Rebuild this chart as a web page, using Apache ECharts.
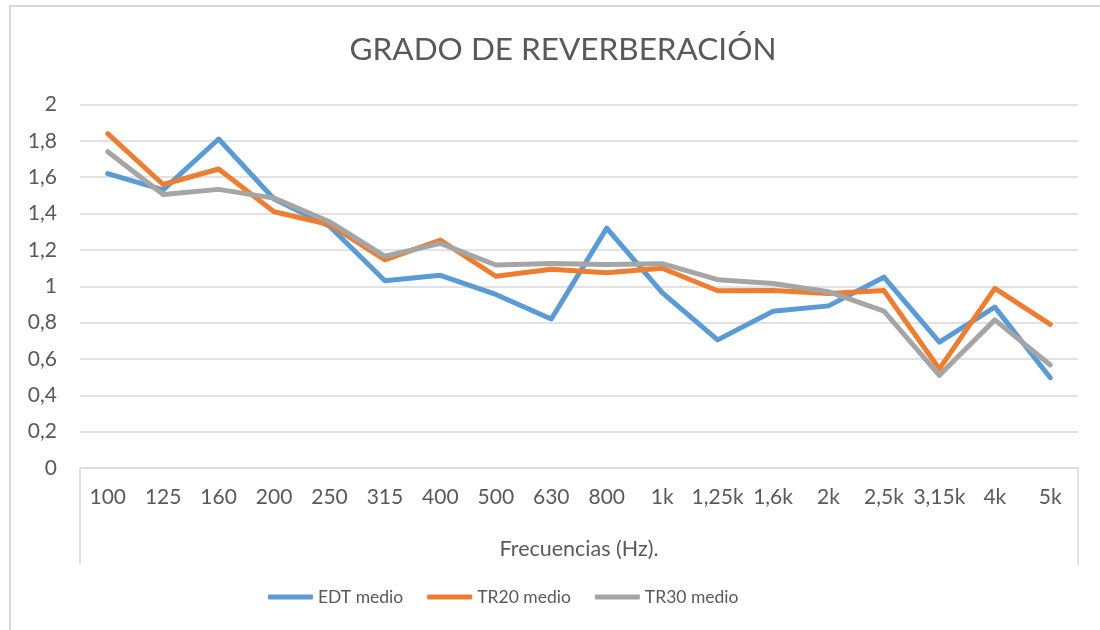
<!DOCTYPE html>
<html>
<head>
<meta charset="utf-8">
<title>Grado de reverberación</title>
<script src="https://cdn.jsdelivr.net/npm/echarts@6/dist/echarts.min.js"></script>
<style>
  html, body { margin: 0; padding: 0; background: #ffffff; }
  #chart { width: 1100px; height: 630px; }
</style>
</head>
<body>
<div id="chart"></div>
<script>
// Bandas de frecuencia (Hz)
const frequencies = ['100', '125', '160', '200', '250', '315', '400', '500', '630', '800',
  '1k', '1,25k', '1,6k', '2k', '2,5k', '3,15k', '4k', '5k'];

// Tiempos medios por banda (s)
const edtMedio = [1.62, 1.53, 1.81, 1.48, 1.33, 1.03, 1.06, 0.955, 0.82, 1.32,
  0.965, 0.705, 0.862, 0.892, 1.05, 0.692, 0.885, 0.497];
const tr20Medio = [1.84, 1.56, 1.645, 1.41, 1.34, 1.145, 1.254, 1.055, 1.093, 1.074,
  1.099, 0.975, 0.977, 0.96, 0.976, 0.545, 0.988, 0.79];
const tr30Medio = [1.74, 1.505, 1.533, 1.485, 1.355, 1.165, 1.236, 1.117, 1.125, 1.12,
  1.124, 1.036, 1.015, 0.97, 0.863, 0.51, 0.815, 0.567];

const yTicks = { min: 0, max: 2, interval: 0.2 };

const FONT = 'Lato, "Open Sans", sans-serif';
const TEXT = '#595959';
const GRID = '#d9d9d9';

const chart = echarts.init(document.getElementById('chart'), null, { renderer: 'canvas' });

function lineSeries(name, data, color) {
  return {
    name: name,
    type: 'line',
    data: data,
    symbol: 'none',
    smooth: false,
    itemStyle: { color: color },
    lineStyle: { color: color, width: 5, cap: 'round', join: 'round' },
    emphasis: { disabled: true }
  };
}

chart.setOption({
  backgroundColor: '#ffffff',
  animation: false,
  textStyle: { fontFamily: FONT },
  title: {
    text: 'GRADO DE REVERBERACIÓN',
    left: 558,
    textAlign: 'center',
    top: 29,
    textStyle: { fontFamily: FONT, fontSize: 31.5, fontWeight: 'normal', color: TEXT }
  },
  grid: { left: 80, right: 22, top: 104.5, bottom: 162, containLabel: false },
  legend: {
    bottom: 19,
    left: 263,
    icon: 'roundRect',
    itemWidth: 45,
    itemHeight: 5,
    itemGap: 24,
    textStyle: { fontFamily: FONT, fontSize: 17.5, color: TEXT },
    data: ['EDT medio', 'TR20 medio', 'TR30 medio']
  },
  xAxis: {
    type: 'category',
    data: frequencies,
    boundaryGap: true,
    name: 'Frecuencias (Hz).',
    nameLocation: 'middle',
    nameGap: 70,
    nameTextStyle: { fontFamily: FONT, fontSize: 21.5, color: TEXT },
    axisLine: { show: true, lineStyle: { color: GRID, width: 1.5 } },
    axisTick: { show: false },
    axisLabel: { fontFamily: FONT, fontSize: 21, color: TEXT, margin: 19, interval: 0 },
    splitLine: { show: false }
  },
  yAxis: {
    type: 'value',
    min: yTicks.min,
    max: yTicks.max,
    interval: yTicks.interval,
    axisLine: { show: false },
    axisTick: { show: false },
    axisLabel: {
      fontFamily: FONT, fontSize: 21, color: TEXT, margin: 23,
      formatter: v => String(Math.round(v * 10) / 10).replace('.', ',')
    },
    splitLine: { show: true, lineStyle: { color: GRID, width: 1.5 } }
  },
  graphic: [
    // marco exterior del gráfico
    { type: 'rect', silent: true, shape: { x: 10, y: 6, width: 1200, height: 700 },
      style: { fill: 'none', stroke: GRID, lineWidth: 2 } },
    // laterales de la zona de rótulos del eje de categorías
    { type: 'line', silent: true, shape: { x1: 80, y1: 468, x2: 80, y2: 565 },
      style: { stroke: GRID, lineWidth: 1.5 } },
    { type: 'line', silent: true, shape: { x1: 1078, y1: 468, x2: 1078, y2: 565 },
      style: { stroke: GRID, lineWidth: 1.5 } }
  ],
  series: [
    lineSeries('EDT medio', edtMedio, '#5B9BD5'),
    lineSeries('TR20 medio', tr20Medio, '#ED7D31'),
    lineSeries('TR30 medio', tr30Medio, '#A5A5A5')
  ]
});
</script>
</body>
</html>
